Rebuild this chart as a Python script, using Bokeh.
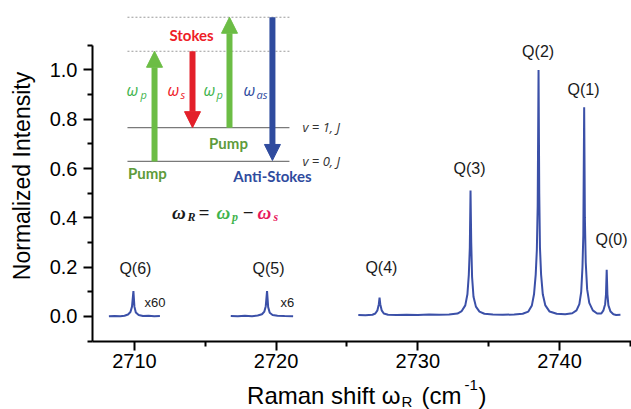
import math
from bokeh.plotting import figure
from bokeh.models import Range1d, FixedTicker, Arrow, NormalHead, NumeralTickFormatter
from bokeh.core.properties import value
from bokeh.embed import file_html
from bokeh.resources import INLINE

# ---------------- data ----------------
main_x = [2725.8, 2726.3, 2726.8, 2727.0, 2727.15, 2727.25, 2727.3, 2727.35, 2727.45, 2727.6,
          2727.9, 2728.5, 2729.2, 2730.0, 2730.8, 2731.5, 2732.2, 2732.8, 2733.1, 2733.35,
          2733.5, 2733.6, 2733.67, 2733.72, 2733.77, 2733.83, 2733.93, 2734.1, 2734.35, 2734.7,
          2735.3, 2736.0, 2736.8, 2737.4, 2737.8, 2738.05, 2738.2, 2738.32, 2738.4, 2738.46,
          2738.52, 2738.57, 2738.62, 2738.7, 2738.82, 2739.0, 2739.3, 2739.8, 2740.4, 2740.9,
          2741.2, 2741.4, 2741.53, 2741.62, 2741.68, 2741.74, 2741.79, 2741.85, 2741.95, 2742.1,
          2742.35, 2742.65, 2742.95, 2743.1, 2743.22, 2743.28, 2743.33, 2743.38, 2743.45, 2743.6,
          2743.8, 2744.0, 2744.3]
main_y = [0.006, 0.005, 0.007, 0.012, 0.025, 0.05, 0.077, 0.05, 0.025, 0.012,
          0.007, 0.006, 0.007, 0.006, 0.008, 0.007, 0.008, 0.012, 0.022, 0.045,
          0.09, 0.17, 0.28, 0.511, 0.30, 0.16, 0.08, 0.04, 0.02, 0.011,
          0.008, 0.007, 0.008, 0.011, 0.02, 0.045, 0.09, 0.17, 0.27, 0.45,
          1.0, 0.5, 0.28, 0.17, 0.09, 0.045, 0.02, 0.011, 0.009, 0.013,
          0.025, 0.05, 0.10, 0.20, 0.33, 0.849, 0.40, 0.22, 0.11, 0.055,
          0.025, 0.012, 0.012, 0.025, 0.05, 0.09, 0.19, 0.09, 0.045, 0.02,
          0.009, 0.006, 0.007]

q6_x = [2708.2, 2708.6, 2709.0, 2709.3, 2709.55, 2709.72, 2709.83, 2709.93, 2710.0, 2710.1,
        2710.3, 2710.6, 2711.0, 2711.4, 2711.8]
q6_y = [0.001, 0.002, 0.001, 0.003, 0.008, 0.018, 0.04, 0.103, 0.04, 0.016,
        0.006, 0.002, 0.003, 0.001, 0.002]
q5_x = [2716.8, 2717.3, 2717.8, 2718.3, 2718.7, 2719.0, 2719.17, 2719.27, 2719.36, 2719.44,
        2719.55, 2719.75, 2720.1, 2720.6, 2721.2]
q5_y = [0.002, 0.001, 0.003, 0.001, 0.004, 0.009, 0.02, 0.042, 0.103, 0.038,
        0.015, 0.006, 0.003, 0.002, 0.001]

peak_names = ["Q(6)", "Q(5)", "Q(4)", "Q(3)", "Q(2)", "Q(1)", "Q(0)"]
peak_lx = [2710.07, 2719.46, 2727.43, 2733.65, 2738.49, 2741.69, 2743.67]
peak_ly = [0.195, 0.195, 0.199, 0.600, 1.076, 0.921, 0.312]
scale_names = ["x60", "x6"]
scale_lx = [2710.71, 2720.31]
scale_ly = [0.057, 0.057]

x_ticks = [2710, 2720, 2730, 2740]
x_minor = [2715, 2725, 2735, 2745]
y_ticks = [0.0, 0.2, 0.4, 0.6, 0.8, 1.0]
y_minor = [-0.1, 0.1, 0.3, 0.5, 0.7, 0.9, 1.1]
x_axis_start, x_axis_end = 2707.04, 2745.08
y_axis_start, y_axis_end = -0.1, 1.1

# energy-level diagram (inset)
lvl_x0, lvl_x1 = 2709.51, 2720.94
virt_levels = [1.214, 1.076]
vib_levels = [0.766, 0.629]
arrow_x = [2711.42, 2714.10, 2716.71, 2719.74]
arrow_y0 = [0.629, 1.076, 0.766, 1.214]
arrow_y1 = [1.076, 0.766, 1.214, 0.633]
arrow_col = ["#6cbd45", "#e3202a", "#6cbd45", "#2f4b9e"]

SPEC = "#3b50a8"
GREEN_T = "#3fb44d"
PUMP_T = "#5e9b3b"
RED_T = "#ee2027"
BLUE_T = "#2f4b9e"
PINK_T = "#e8195d"
FONT = "Liberation Sans"

p = figure(width=631, height=409, output_backend="svg", toolbar_location=None,
           x_range=Range1d(2700.55, 2745.08), y_range=Range1d(-0.3773, 1.2819),
           min_border_left=0, min_border_right=0, min_border_top=0, min_border_bottom=0)
p.outline_line_color = None
p.grid.visible = False
p.background_fill_color = "white"

for ax in (p.xaxis[0], p.yaxis[0]):
    ax.axis_line_width = 2
    ax.axis_line_color = "black"
    ax.major_tick_line_width = 2
    ax.minor_tick_line_width = 2
    ax.major_tick_line_color = "black"
    ax.minor_tick_line_color = "black"
    ax.major_tick_in = 0
    ax.major_tick_out = 9
    ax.minor_tick_in = 0
    ax.minor_tick_out = 5
    ax.major_label_text_font = FONT
    ax.major_label_text_font_size = "20px"
    ax.major_label_text_color = "black"

p.xaxis.ticker = FixedTicker(ticks=x_ticks, minor_ticks=x_minor)
p.xaxis.fixed_location = y_axis_start
p.xaxis.bounds = (x_axis_start, x_axis_end)
p.xaxis.major_label_standoff = 4
p.yaxis.ticker = FixedTicker(ticks=y_ticks, minor_ticks=y_minor)
p.yaxis.formatter = NumeralTickFormatter(format="0.0")
p.yaxis.fixed_location = x_axis_start
p.yaxis.bounds = (y_axis_start, y_axis_end)
p.yaxis.major_label_standoff = 6

# axis titles
p.text(x=[2702.10], y=[0.570], text=["Normalized Intensity"], angle=math.pi / 2,
       text_font=value(FONT), text_font_size="23px", text_align="center",
       text_baseline="middle", text_color="black")
p.text(x=[2728.78], y=[-0.3205], text=["Raman shift \u03c9"], text_font=value(FONT),
       text_font_size="24px", text_align="right", text_baseline="alphabetic", text_color="black")
p.text(x=[2728.85], y=[-0.3448], text=["R"], text_font=value(FONT),
       text_font_size="15px", text_align="left", text_baseline="alphabetic", text_color="black")
p.text(x=[2730.26, 2734.28], y=[-0.3205, -0.3205], text=["(cm", ")"], text_font=value(FONT),
       text_font_size="24px", text_align="left", text_baseline="alphabetic", text_color="black")
p.text(x=[2733.29], y=[-0.2799], text=["-1"], text_font=value(FONT),
       text_font_size="15px", text_align="left", text_baseline="alphabetic", text_color="black")

# spectra
p.line(main_x, main_y, line_color=SPEC, line_width=2)
p.line(q6_x, q6_y, line_color=SPEC, line_width=2)
p.line(q5_x, q5_y, line_color=SPEC, line_width=2)

p.text(x=peak_lx, y=peak_ly, text=peak_names, text_font=value(FONT), text_font_size="16px",
       text_align="center", text_baseline="middle", text_color="#1a1a1a")
p.text(x=scale_lx, y=scale_ly, text=scale_names, text_font=value(FONT), text_font_size="13px",
       text_align="left", text_baseline="middle", text_color="#1a1a1a")

# ---------- inset energy diagram ----------
for yv in virt_levels:
    p.line([lvl_x0, lvl_x1], [yv, yv], line_color="#9a9a9a", line_width=1, line_dash="2 2")
for yv in vib_levels:
    p.line([lvl_x0, lvl_x1], [yv, yv], line_color="#7a7a7a", line_width=1.3)

for xa, ya, yb, c in zip(arrow_x, arrow_y0, arrow_y1, arrow_col):
    p.add_layout(Arrow(x_start=xa, y_start=ya, x_end=xa, y_end=yb, line_color=c, line_width=6,
                       end=NormalHead(size=16, fill_color=c, line_color=c, line_width=1)))

p.text(x=[2714.03], y=[1.140], text=["Stokes"], text_font=value("Lato"), text_font_style="bold",
       text_font_size="15px", text_align="center", text_baseline="middle", text_color=RED_T)
p.text(x=[2710.92, 2716.64], y=[0.584, 0.702], text=["Pump", "Pump"], text_font=value("Lato"),
       text_font_style="bold", text_font_size="15px", text_align="center", text_baseline="middle",
       text_color=PUMP_T)
p.text(x=[2719.74], y=[0.568], text=["Anti-Stokes"], text_font=value("Lato"), text_font_style="bold",
       text_font_size="15px", text_align="center", text_baseline="middle", text_color=BLUE_T)

# omega labels next to arrows
om_x = [2709.44, 2712.33, 2714.87, 2717.70]
om_sub_x = [2710.43, 2713.25, 2715.79, 2718.61]
om_sub = ["p", "s", "p", "as"]
om_col = [GREEN_T, RED_T, GREEN_T, BLUE_T]
p.text(x=om_x, y=[0.917] * 4, text=["\u03c9"] * 4, text_font=value("Open Sans"),
       text_font_style="italic", text_font_size="16px", text_align="left",
       text_baseline="middle", text_color=om_col)
p.text(x=om_sub_x, y=[0.900] * 4, text=om_sub, text_font=value("Open Sans"),
       text_font_style="italic", text_font_size="11px", text_align="left",
       text_baseline="middle", text_color=om_col)

p.text(x=[2721.86, 2721.86], y=[0.767, 0.629], text=["v = 1, J", "v = 0, J"],
       text_font=value("Open Sans"), text_font_style="italic", text_font_size="13px",
       text_align="left", text_baseline="middle", text_color="#333333")

# formula  wR = wp - ws
f_x = [2712.66, 2714.52, 2715.79, 2717.63, 2718.68]
f_t = ["\u03c9", "=", "\u03c9", "\u2212", "\u03c9"]
f_c = ["#1a1a1a", "#1a1a1a", GREEN_T, "#1a1a1a", PINK_T]
p.text(x=f_x, y=[0.423] * 5, text=f_t, text_font=value("Liberation Serif"),
       text_font_style="bold italic", text_font_size="19px", text_align="left",
       text_baseline="alphabetic", text_color=f_c)
p.text(x=[2713.74, 2716.88, 2719.81], y=[0.403] * 3, text=["R", "p", "s"],
       text_font=value("Liberation Serif"), text_font_style="bold italic", text_font_size="12px",
       text_align="left", text_baseline="alphabetic", text_color=["#1a1a1a", GREEN_T, PINK_T])

open("out.html", "w").write(file_html(p, INLINE))
